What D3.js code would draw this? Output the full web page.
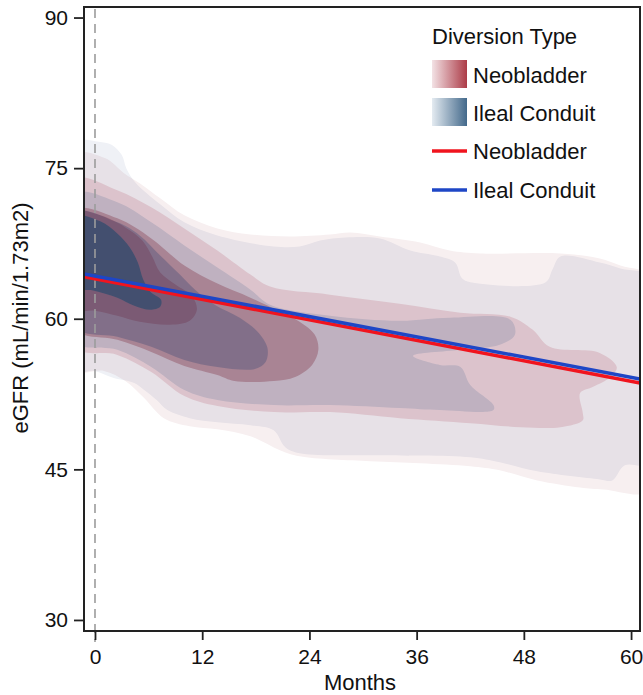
<!DOCTYPE html>
<html>
<head>
<meta charset="utf-8">
<script src="https://d3js.org/d3.v7.min.js"></script>
<style>
  body { margin: 0; background: #fff; }
  svg { display: block; }
  text { font-family: "Liberation Sans", Arial, Helvetica, sans-serif; fill: #111; }
</style>
</head>
<body>
<svg id="chart" width="643" height="695"></svg>
<script>
// ---------------- DATA ----------------
const xTicks = [0, 12, 24, 36, 48, 60];
const yTicks = [30, 45, 60, 75, 90];
const groups = ["Neobladder", "Ileal Conduit"];

// Density contour bands, [months, eGFR] outline points
const neoLevel1 = [[-2.5,76.3],[1.1,76.0],[3.25,74.5],[5.0,73.5],[7.3,72.0],[10.0,70.3],[13.7,69.0],[17.4,68.4],[21.8,68.2],[26.3,68.4],[28.6,68.6],[31.9,68.2],[36.4,67.6],[39.7,66.8],[43.1,66.5],[52.1,66.5],[56.5,66.0],[58.8,65.3],[62.5,64.0],
  [62.5,43.0],[56.9,43.0],[54.3,43.2],[49.5,43.9],[45.3,44.9],[42.0,45.3],[36.4,45.6],[30.8,45.8],[22.9,46.3],[20.7,46.9],[17.4,48.3],[13.7,49.0],[10.6,49.3],[7.7,50.1],[5.5,52.1],[3.4,53.8],[1.0,54.8],[-2.5,54.9]];
const neoLevel2 = [[-2.5,73.9],[2.5,72.8],[6.3,71.1],[10.0,69.0],[13.7,66.8],[17.4,64.4],[19.6,63.2],[26.3,62.4],[34.1,61.5],[40.9,60.6],[46.5,60.2],[49.0,58.9],[50.9,57.2],[56.5,56.6],[58.4,55.2],[57.7,54.2],[55.7,53.2],[54.3,52.6],[54.6,50.6],[54.6,49.9],[52.1,49.2],[47.6,49.2],[42.0,49.6],[34.1,50.1],[26.3,50.7],[20.0,50.7],[13.7,51.3],[10.0,52.3],[6.3,54.7],[2.5,56.4],[-2.5,57.3]];
const neoLevel3 = [[-2.5,70.8],[2.5,70.0],[6.3,68.0],[10.0,65.3],[13.7,63.5],[17.4,62.1],[20.7,60.7],[22.9,59.7],[24.6,58.4],[25.0,56.9],[24.3,55.4],[22.4,54.2],[20.0,53.8],[15.6,53.8],[13.7,54.4],[10.0,55.3],[6.3,56.7],[2.5,57.9],[-2.5,59.1]];
const neoLevel4Outer = [[-2.5,70.6],[0.6,70.3],[3.4,69.1],[5.3,67.8],[6.4,66.2],[7.3,64.6],[9.0,63.4],[10.9,62.2],[11.4,60.9],[10.6,59.8],[8.4,59.4],[5.0,59.7],[2.5,60.3],[0.0,60.8],[-2.5,61.0]];
const neoLevel4Inner = [[-2.5,70.2],[0.6,69.7],[2.5,68.5],[3.9,67.1],[4.8,65.6],[5.4,63.9],[6.2,62.7],[7.4,61.9],[7.3,61.2],[6.2,60.9],[4.4,61.3],[2.5,62.1],[-0.1,62.8],[-2.5,63.2]];

const ilealLevel1 = [[-2.5,77.5],[0.6,77.6],[1.9,77.3],[3.0,76.3],[3.5,75.0],[4.5,73.6],[7.3,71.4],[10.0,69.6],[13.7,68.3],[20.0,67.2],[22.9,67.2],[25.2,67.8],[28.0,68.1],[31.9,68.0],[35.3,66.8],[38.6,66.2],[40.3,65.6],[41.1,64.0],[42.2,63.6],[50.4,63.6],[51.2,64.9],[52.1,66.2],[56.5,65.6],[58.8,65.0],[62.5,64.0],
  [62.5,45.6],[59.3,45.4],[57.9,43.9],[56.5,44.0],[49.5,44.8],[45.3,45.7],[42.0,46.2],[30.8,46.4],[22.9,46.6],[21.3,47.2],[20.0,48.9],[17.4,49.4],[13.7,49.7],[10.6,50.1],[8.1,50.9],[6.9,51.9],[5.5,52.9],[4.4,53.6],[2.1,54.1],[-0.1,54.8],[-2.5,54.8]];
const ilealLevel2 = [[-2.5,72.4],[2.5,71.6],[6.3,69.6],[10.0,67.3],[13.7,65.1],[17.4,62.9],[19.6,61.4],[26.3,60.3],[34.1,59.8],[39.7,60.1],[46.5,59.9],[47.0,58.4],[45.3,57.4],[40.9,56.9],[35.6,56.3],[38.6,55.4],[40.9,55.2],[42.0,53.4],[44.6,51.4],[44.6,50.9],[38.6,50.9],[34.1,51.1],[26.3,51.4],[20.0,51.4],[13.7,51.9],[10.0,52.9],[6.3,55.2],[2.5,56.9],[-2.5,57.8]];
const ilealLevel3 = [[-2.5,70.6],[2.5,69.6],[5.0,68.3],[7.3,66.3],[9.5,64.4],[11.2,62.9],[13.4,61.4],[16.2,60.1],[18.2,58.7],[19.3,57.1],[19.1,55.7],[17.9,55.0],[13.7,55.2],[10.0,55.9],[6.3,57.2],[2.5,58.2],[-2.5,59.3]];
const ilealLevel4 = [[-2.5,70.2],[0.6,69.7],[2.5,68.5],[3.9,67.1],[4.8,65.6],[5.4,63.9],[6.2,62.7],[7.4,61.9],[7.3,61.2],[6.2,60.9],[4.4,61.3],[2.5,62.1],[-0.1,62.8],[-2.5,63.2]];

// Linear fits (eGFR at the plot's left and right edges)
const fitMonths = [-1.23, 61.0];
const neoFit = [64.18, 53.6];
const ilealFit = [64.45, 54.0];

// ---------------- CHART ----------------
const W = 643, H = 695;
const P = { left: 84, right: 640, top: 7, bottom: 631 };
const svg = d3.select("#chart");
svg.append("rect").attr("width", W).attr("height", H).attr("fill", "#fff");

const x = d3.scaleLinear().domain([-1.23, 61.0]).range([P.left, P.right]);
const y = d3.scaleLinear().domain([28.9, 91.05]).range([P.bottom, P.top]);

const defs = svg.append("defs");
defs.append("clipPath").attr("id", "clip").append("rect")
  .attr("x", P.left).attr("y", P.top).attr("width", P.right - P.left).attr("height", P.bottom - P.top);
function grad(id, c0, c1) {
  const g = defs.append("linearGradient").attr("id", id).attr("x1", "0%").attr("x2", "100%").attr("y1", "0%").attr("y2", "0%");
  g.append("stop").attr("offset", "0%").attr("stop-color", c0);
  g.append("stop").attr("offset", "100%").attr("stop-color", c1);
}
grad("gradRed", "#f3e2e5", "#ac3b47");
grad("gradBlue", "#e4ebf1", "#43698b");

const shape = d3.line().x(d => x(d[0])).y(d => y(d[1])).curve(d3.curveCatmullRomClosed.alpha(0.5));

const gC = svg.append("g").attr("clip-path", "url(#clip)");
const gRed = gC.append("g");
const neoColors = ["#f7eff0", "#ebcfd4", "#d09aa3"];
[neoLevel1, neoLevel2, neoLevel3].forEach((lv, i) => {
  gRed.append("path").attr("d", shape(lv)).attr("fill", neoColors[i]);
});
gRed.append("path").attr("d", shape(neoLevel4Outer) + shape(neoLevel4Inner))
  .attr("fill", "#c47c8a").attr("fill-rule", "evenodd");

const gBlue = gC.append("g").style("mix-blend-mode", "multiply");
const ilealColors = ["#eff1f6", "#cfdae7", "#a0b8d6", "#5283ae"];
[ilealLevel1, ilealLevel2, ilealLevel3, ilealLevel4].forEach((lv, i) => {
  gBlue.append("path").attr("d", shape(lv)).attr("fill", ilealColors[i]);
});

// reference line at month 0
svg.append("line").attr("x1", x(0)).attr("x2", x(0)).attr("y1", P.top + 2).attr("y2", 642)
  .attr("stroke", "#9c9c9c").attr("stroke-width", 1.6).attr("stroke-dasharray", "9,6");

// fitted lines
const fitLine = d3.line().x((d, i) => x(fitMonths[i])).y(d => y(d));
const gL = svg.append("g").attr("clip-path", "url(#clip)");
gL.append("path").attr("d", fitLine(neoFit)).attr("stroke", "#f0141e").attr("stroke-width", 3.5).attr("fill", "none");
gL.append("path").attr("d", fitLine(ilealFit)).attr("stroke", "#1e46c6").attr("stroke-width", 3.5).attr("fill", "none");

// axes
const xAxis = svg.append("g").attr("transform", `translate(0,${P.bottom})`)
  .call(d3.axisBottom(x).tickValues(xTicks).tickSize(9).tickSizeOuter(0).tickPadding(9));
const yAxis = svg.append("g").attr("transform", `translate(${P.left},0)`)
  .call(d3.axisLeft(y).tickValues(yTicks).tickSize(10).tickSizeOuter(0).tickPadding(6));
[xAxis, yAxis].forEach(a => {
  a.select(".domain").remove();
  a.selectAll(".tick line").attr("stroke", "#222").attr("stroke-width", 1.8);
  a.selectAll(".tick text").style("font-family", '"Liberation Sans", Arial, sans-serif').attr("font-size", 21).attr("fill", "#111");
});

svg.append("rect").attr("x", P.left).attr("y", P.top).attr("width", P.right - P.left).attr("height", P.bottom - P.top)
  .attr("fill", "none").attr("stroke", "#222").attr("stroke-width", 2);

svg.append("text").attr("x", 360).attr("y", 690).attr("text-anchor", "middle").attr("font-size", 22).text("Months");
svg.append("text").attr("transform", "translate(28,318) rotate(-90)").attr("text-anchor", "middle").attr("font-size", 22)
  .text("eGFR (mL/min/1.73m2)");

// legend
const lg = svg.append("g");
lg.append("text").attr("x", 432).attr("y", 44).attr("font-size", 22).text("Diversion Type");
lg.append("rect").attr("x", 432).attr("y", 60).attr("width", 35).attr("height", 28).attr("fill", "url(#gradRed)");
lg.append("rect").attr("x", 432).attr("y", 98).attr("width", 35).attr("height", 28).attr("fill", "url(#gradBlue)");
lg.append("line").attr("x1", 432).attr("x2", 467).attr("y1", 151).attr("y2", 151).attr("stroke", "#f0141e").attr("stroke-width", 3.5);
lg.append("line").attr("x1", 432).attr("x2", 467).attr("y1", 190).attr("y2", 190).attr("stroke", "#1e46c6").attr("stroke-width", 3.5);
[[83, groups[0]], [121, groups[1]], [159, groups[0]], [198, groups[1]]].forEach(([yy, t]) => {
  lg.append("text").attr("x", 473).attr("y", yy).attr("font-size", 22).text(t);
});
</script>
</body>
</html>
